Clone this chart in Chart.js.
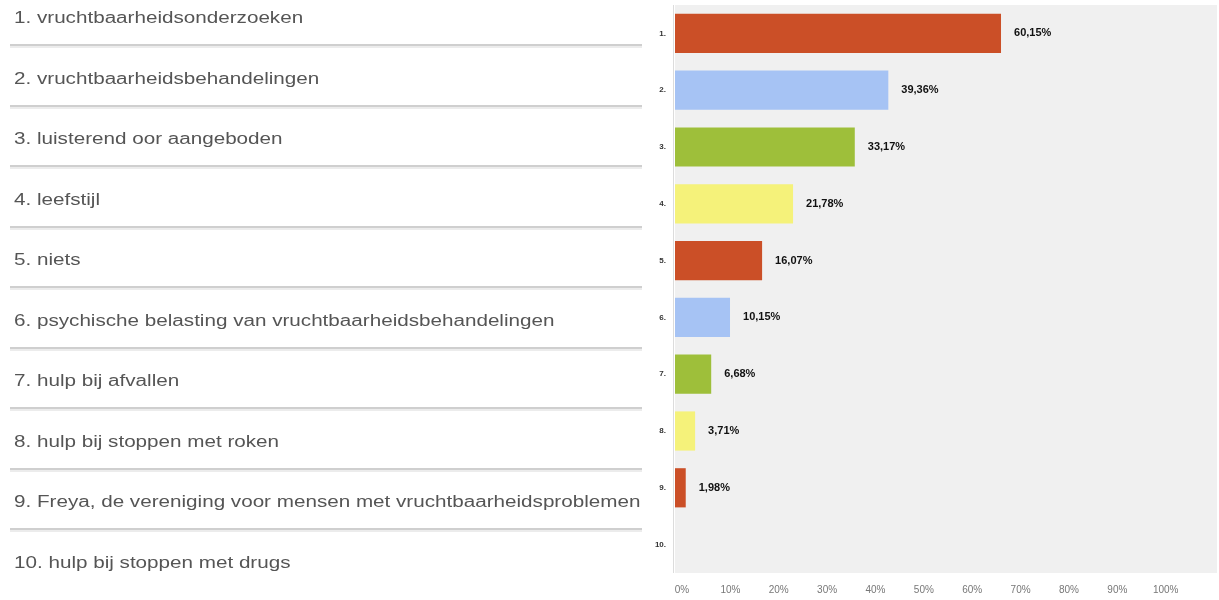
<!DOCTYPE html>
<html>
<head>
<meta charset="utf-8">
<script src="https://cdn.jsdelivr.net/npm/chart.js@4/dist/chart.umd.min.js"></script>
<style>
  html, body { margin: 0; padding: 0; background: #ffffff; }
  #wrap { position: relative; width: 1219px; height: 600px; overflow: hidden; }
  #chart { position: absolute; left: 0; top: 0; }
  #list { position: absolute; left: 0; top: 0; width: 650px; height: 600px; }
  .item { position: absolute; left: 14px; white-space: nowrap; font-family: "Liberation Sans", Arial, sans-serif;
          font-size: 16px; line-height: 20px; color: #555555; transform-origin: left center; }
  .sep { position: absolute; left: 10px; width: 632px; height: 2px; background: #cfcfcf;
         border-bottom: 2px solid #ececec; }
</style>
</head>
<body>
<div id="wrap">
  <canvas id="chart" width="1219" height="600"></canvas>
  <div id="list"></div>
</div>
<script>
// ---- data ----
const categories = ['1.', '2.', '3.', '4.', '5.', '6.', '7.', '8.', '9.', '10.'];
const itemLabels = [
  '1. vruchtbaarheidsonderzoeken',
  '2. vruchtbaarheidsbehandelingen',
  '3. luisterend oor aangeboden',
  '4. leefstijl',
  '5. niets',
  '6. psychische belasting van vruchtbaarheidsbehandelingen',
  '7. hulp bij afvallen',
  '8. hulp bij stoppen met roken',
  '9. Freya, de vereniging voor mensen met vruchtbaarheidsproblemen',
  '10. hulp bij stoppen met drugs'
];
const values = [60.15, 39.36, 33.17, 21.78, 16.07, 10.15, 6.68, 3.71, 1.98, 0];
const barColors = ['#cb4f27', '#a6c3f4', '#9ebf3a', '#f5f27a', '#cb4f27', '#a6c3f4', '#9ebf3a', '#f5f27a', '#cb4f27', '#a6c3f4'];
const xTickValues = [0, 10, 20, 30, 40, 50, 60, 70, 80, 90, 100];
const xTickLabels = ['0%', '10%', '20%', '30%', '40%', '50%', '60%', '70%', '80%', '90%', '100%'];

// ---- left list (text) ----
const list = document.getElementById('list');
const ROW = 60.5;
const items = [];
itemLabels.forEach((t, i) => {
  const d = document.createElement('div');
  d.className = 'item';
  d.textContent = t;
  d.style.top = (8 + ROW * i) + 'px';
  list.appendChild(d);
  items.push(d);
  if (i < itemLabels.length - 1) {
    const s = document.createElement('div');
    s.className = 'sep';
    s.style.top = (44 + ROW * i) + 'px';
    list.appendChild(s);
  }
});
// horizontal stretch matching the reference's wide lettering
const longest = items.reduce((m, d) => Math.max(m, d.scrollWidth), 1);
const stretch = 627 / longest;
items.forEach(d => { d.style.transform = 'scaleX(' + stretch.toFixed(3) + ')'; });

// ---- chart ----
const plotBg = {
  id: 'plotBg',
  beforeDraw(chart) {
    const { ctx, chartArea: a } = chart;
    ctx.save();
    ctx.fillStyle = '#f0f0f0';
    ctx.fillRect(a.left, a.top, a.right - a.left, a.bottom - a.top);
    ctx.fillStyle = '#dcdcdc';
    ctx.fillRect(a.left - 2, a.top, 1, a.bottom - a.top);
    ctx.restore();
  }
};
const valueLabels = {
  id: 'valueLabels',
  afterDatasetsDraw(chart) {
    const { ctx } = chart;
    const meta = chart.getDatasetMeta(0);
    ctx.save();
    ctx.font = 'bold 11px "Liberation Sans", Arial, sans-serif';
    ctx.fillStyle = '#111';
    ctx.textAlign = 'left';
    ctx.textBaseline = 'middle';
    meta.data.forEach((bar, i) => {
      const v = values[i];
      if (v > 0) {
        ctx.fillText(v.toFixed(2).replace('.', ',') + '%', bar.x + 13, bar.y);
      }
    });
    ctx.restore();
  }
};

new Chart(document.getElementById('chart'), {
  type: 'bar',
  data: {
    labels: categories,
    datasets: [{
      data: values,
      backgroundColor: barColors,
      borderWidth: 0,
      barPercentage: 0.69,
      categoryPercentage: 1.0
    }]
  },
  options: {
    indexAxis: 'y',
    responsive: false,
    animation: false,
    layout: { padding: { left: 0, right: 2, top: 5, bottom: 0 } },
    plugins: { legend: { display: false }, tooltip: { enabled: false } },
    scales: {
      y: {
        afterFit(scale) { scale.width = 675; scale.paddingTop = 0; scale.paddingBottom = 0; },
        grid: { display: false, drawTicks: false },
        border: { display: false },
        ticks: {
          padding: 9,
          color: '#333',
          font: { family: '"Liberation Sans", Arial, sans-serif', size: 8, weight: 'bold' }
        }
      },
      x: {
        min: 0, max: 100,
        display: false
      },
      x2: {
        position: 'bottom',
        min: -1.45, max: 110.6,
        afterFit(scale) { scale.height = 27; },
        afterBuildTicks(scale) { scale.ticks = xTickValues.map(v => ({ value: v })); },
        grid: { display: false, drawTicks: false },
        border: { display: false },
        ticks: {
          padding: 11,
          maxRotation: 0,
          autoSkip: false,
          color: '#777',
          font: { family: '"Liberation Sans", Arial, sans-serif', size: 10 },
          callback: (v, idx) => xTickLabels[idx]
        }
      }
    }
  },
  plugins: [plotBg, valueLabels]
});
</script>
</body>
</html>
